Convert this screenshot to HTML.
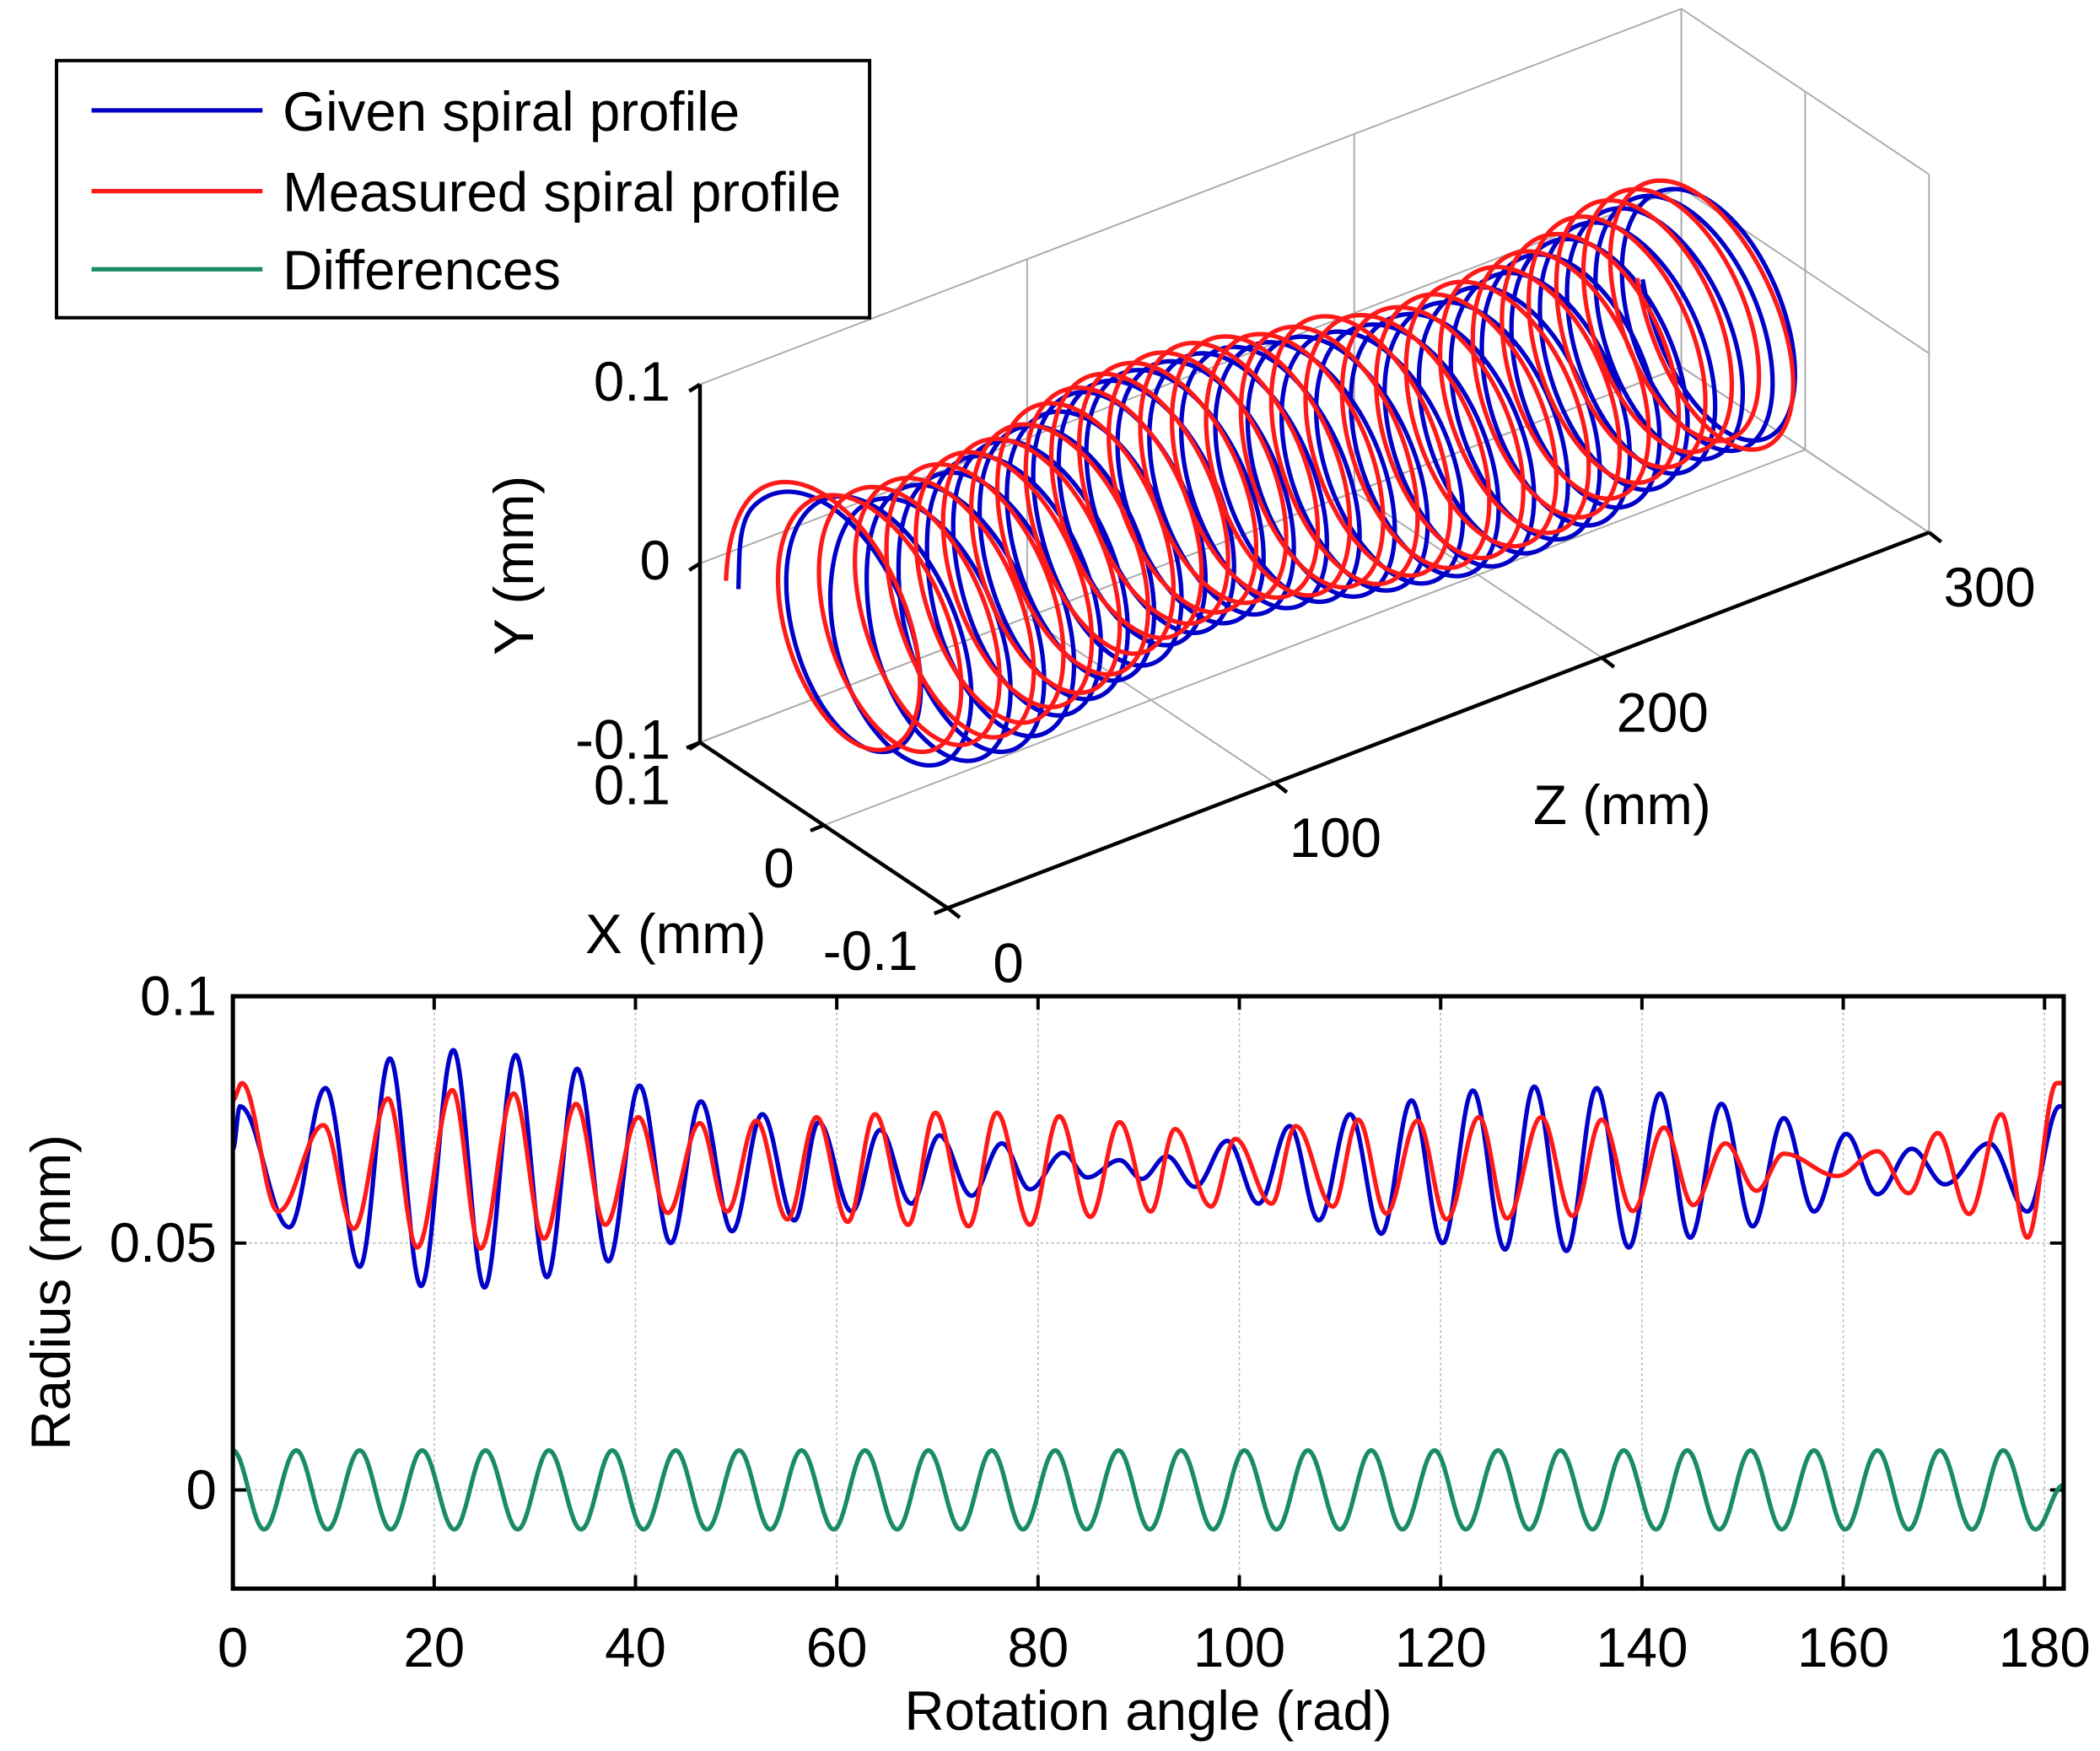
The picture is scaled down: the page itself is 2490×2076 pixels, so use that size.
<!DOCTYPE html>
<html><head><meta charset="utf-8"><style>
html,body{margin:0;padding:0;background:#fff;}
svg{display:block;}
text{font-family:"Liberation Sans",sans-serif;fill:#000;}
</style></head><body>
<svg id="fig" width="2490" height="2076" viewBox="0 0 1560 1300.6" preserveAspectRatio="none" xmlns="http://www.w3.org/2000/svg">
<g id="g3d"></g>
<g id="g2d"></g>
<g id="legend">
 <rect x="42" y="45" width="604" height="191" fill="#fff" stroke="#000" stroke-width="2.5"/>
 <line x1="68" y1="82" x2="195" y2="82" stroke="#0000c8" stroke-width="3.3"/>
 <text x="210" y="97" font-size="41">Given spiral profile</text>
 <line x1="68" y1="142" x2="195" y2="142" stroke="#ff1a1a" stroke-width="3.3"/>
 <text x="210" y="157" font-size="41">Measured spiral profile</text>
 <line x1="68" y1="200" x2="195" y2="200" stroke="#1a8c64" stroke-width="3.3"/>
 <text x="210" y="215" font-size="41">Differences</text>
</g>
</svg>
<script>
// ---- data (extrema; curves interpolated between them) ----
const xTicks = [0,20,40,60,80,100,120,140,160,180];
const yTicks = [0,0.05,0.1];
const yTickLabels = ["0","0.05","0.1"];
const blueAngles = [0,0.7,5.6,9.2,12.6,15.6,18.7,21.9,25.0,28.1,31.2,34.2,37.3,40.4,43.5,46.5,49.6,52.6,55.8,58.2,61.5,64.3,67.4,70.2,73.4,76.4,79.2,82.5,84.9,88.1,90.3,92.8,95.6,98.8,101.9,105.0,107.9,111.0,114.1,117.1,120.2,123.2,126.4,129.3,132.5,135.5,138.7,141.8,144.8,147.9,151.0,154.1,157.1,160.3,163.4,166.8,170.1,174.5,178.3,181.5];
const blueValues = [0.069,0.0777,0.0532,0.0814,0.0452,0.0874,0.0413,0.0891,0.0410,0.0881,0.0431,0.0853,0.0463,0.0819,0.05,0.0787,0.0524,0.0761,0.0546,0.0745,0.0564,0.0729,0.058,0.0718,0.0596,0.0702,0.0609,0.0683,0.0633,0.0668,0.063,0.0676,0.0614,0.0707,0.058,0.0737,0.0546,0.0761,0.0519,0.0789,0.05,0.0809,0.0487,0.0817,0.0484,0.0814,0.0491,0.0803,0.0511,0.0782,0.0534,0.0753,0.0564,0.0721,0.0599,0.0691,0.0619,0.0702,0.0564,0.0777];
const redAngles = [0,0.9,4.5,9.0,12.0,15.4,18.3,21.8,24.6,27.9,30.9,34.1,37.0,40.3,43.2,46.4,49.1,52.0,55.1,58.0,61.1,63.8,67.1,69.8,73.1,75.9,79.2,82.1,85.2,88.1,91.2,93.6,97.2,99.6,103.2,105.6,109.3,111.8,114.6,117.7,120.6,123.8,126.6,130.0,133.1,136.0,139.1,142.2,145.1,148.3,151.4,154.1,159.4,163.4,166.5,169.4,172.5,175.7,178.3,181.2];
const redValues = [0.079,0.0824,0.0564,0.0739,0.0529,0.0793,0.0491,0.081,0.0489,0.0803,0.0509,0.0782,0.0537,0.0755,0.0561,0.0743,0.0564,0.0748,0.0548,0.0755,0.0543,0.0761,0.0537,0.0764,0.0534,0.0764,0.0537,0.0757,0.0553,0.0745,0.0564,0.0731,0.0574,0.0711,0.058,0.0737,0.0574,0.075,0.056,0.0748,0.0548,0.0755,0.055,0.0755,0.0555,0.075,0.0565,0.0734,0.0577,0.0702,0.0606,0.0681,0.0636,0.0686,0.0601,0.0723,0.0559,0.0761,0.0511,0.0824];
const diffAngles = [0,3.1,6.3,9.4,12.6,15.7,18.8,22.0,25.1,28.3,31.4,34.6,37.7,40.8,44.0,47.1,50.3,53.4,56.5,59.7,62.8,66.0,69.1,72.3,75.4,78.5,81.7,84.8,88.0,91.1,94.2,97.4,100.5,103.7,106.8,110.0,113.1,116.2,119.4,122.5,125.7,128.8,131.9,135.1,138.2,141.4,144.5,147.7,150.8,153.9,157.1,160.2,163.4,166.5,169.6,172.8,175.9,179.1,181.9];
const diffValues = [0.008,-0.008,0.008,-0.008,0.008,-0.008,0.008,-0.008,0.008,-0.008,0.008,-0.008,0.008,-0.008,0.008,-0.008,0.008,-0.008,0.008,-0.008,0.008,-0.008,0.008,-0.008,0.008,-0.008,0.008,-0.008,0.008,-0.008,0.008,-0.008,0.008,-0.008,0.008,-0.008,0.008,-0.008,0.008,-0.008,0.008,-0.008,0.008,-0.008,0.008,-0.008,0.008,-0.008,0.008,-0.008,0.008,-0.008,0.008,-0.008,0.008,-0.008,0.008,-0.008,0.001];
const zTicks = [0,100,200,300];
const xTicks3d = [0.1,0,-0.1];
const yTicks3d = [0.1,0,-0.1];

const NS="http://www.w3.org/2000/svg";
function mk(parent,tag,attrs){const e=document.createElementNS(NS,tag);for(const k in attrs)e.setAttribute(k,attrs[k]);parent.appendChild(e);return e;}
function interp(A,V,t){
  if(t<=A[0])return V[0];
  for(let i=0;i<A.length-1;i++){
    if(t<=A[i+1]){const s=(t-A[i])/(A[i+1]-A[i]);return V[i]+(V[i+1]-V[i])*(1-Math.cos(Math.PI*s))/2;}
  }
  return V[V.length-1];
}
const XMAX=181.9;
const FS=41;

// ---- 2D plot ----
const g2=document.getElementById('g2d');
const L=173,R=1533,T=740,B=1180,YMIN=-0.02,YMAX=0.1;
const sx=v=>L+(v/XMAX)*(R-L);
const sy=v=>B-(v-YMIN)/(YMAX-YMIN)*(B-T);
xTicks.forEach(v=>{
  const x=sx(v);
  if(v>0){const gl=mk(g2,'line',{x1:x,y1:T,x2:x,y2:B,stroke:'#bbb','stroke-width':1,'stroke-dasharray':'2,2'});
  
  }
  mk(g2,'line',{x1:x,y1:B,x2:x,y2:B-10,stroke:'#000','stroke-width':2.5});
  mk(g2,'line',{x1:x,y1:T,x2:x,y2:T+10,stroke:'#000','stroke-width':2.5});
  const t=mk(g2,'text',{x:x,y:B+58,'font-size':FS,'text-anchor':'middle'});t.textContent=v;
  
  
});
yTicks.forEach((v,i)=>{
  const y=sy(v);
  if(v<0.1){const gl=mk(g2,'line',{x1:L,y1:y,x2:R,y2:y,stroke:'#bbb','stroke-width':1,'stroke-dasharray':'2,2'});
  
  }
  mk(g2,'line',{x1:L,y1:y,x2:L+10,y2:y,stroke:'#000','stroke-width':2.5});
  mk(g2,'line',{x1:R,y1:y,x2:R-10,y2:y,stroke:'#000','stroke-width':2.5});
  const t=mk(g2,'text',{x:L-12,y:y+14,'font-size':FS,'text-anchor':'end'});t.textContent=yTickLabels[i];
  
  
});
function series2d(A,V,color,name){
  let d='';
  for(let t=0;t<=XMAX+1e-9;t+=0.1){d+=(t===0?'M':'L')+sx(t).toFixed(2)+','+sy(interp(A,V,t)).toFixed(2);}
  const p=mk(g2,'path',{d:d,fill:'none',stroke:color,'stroke-width':3.3,'stroke-linejoin':'round'});
  
  
}
series2d(blueAngles,blueValues,'#0000c8','given-radius-line');
series2d(redAngles,redValues,'#ff1a1a','measured-radius-line');
series2d(diffAngles,diffValues,'#1a8c64','differences-line');
const frame=mk(g2,'rect',{x:L,y:T,width:R-L,height:B-T,fill:'none',stroke:'#000','stroke-width':3.2});


let xt=mk(g2,'text',{x:853,y:1285,'font-size':FS,'text-anchor':'middle'});xt.textContent='Rotation angle (rad)';


let yt=mk(g2,'text',{x:0,y:0,'font-size':FS,'text-anchor':'middle',transform:'translate(52,960) rotate(-90)'});yt.textContent='Radius (mm)';



// ---- 3D plot ----
const g3=document.getElementById('g3d');
const K=1.53;
const P=(X,Y,Z)=>[612-920*X+2.43*Z, 480-615*X-1330*Y-0.93*Z];
function ln(a,b,attrs,name){const l=mk(g3,'line',Object.assign({x1:a[0],y1:a[1],x2:b[0],y2:b[1]},attrs));
  
  return l;}
const grid={stroke:'#aaa','stroke-width':1.2};
zTicks.forEach(z=>ln(P(0.1,-0.1,z),P(0.1,0.1,z),grid,'grid-back-z'));
yTicks3d.forEach(y=>ln(P(0.1,y,0),P(0.1,y,300),grid,'grid-back-y'));
zTicks.forEach(z=>ln(P(-0.1,-0.1,z),P(0.1,-0.1,z),grid,'grid-floor-z'));
xTicks3d.forEach(x=>ln(P(x,-0.1,0),P(x,-0.1,300),grid,'grid-floor-x'));
xTicks3d.forEach(x=>ln(P(x,-0.1,300),P(x,0.1,300),grid,'grid-end-x'));
yTicks3d.forEach(y=>ln(P(-0.1,y,300),P(0.1,y,300),grid,'grid-end-y'));
function helix(A,V,color,name){
  let d='';
  for(let t=0;t<=XMAX+1e-9;t+=0.05){const r=interp(A,V,t);const p=P(r*Math.cos(t),r*Math.sin(t),K*t);d+=(t===0?'M':'L')+p[0].toFixed(2)+','+p[1].toFixed(2);}
  const p=mk(g3,'path',{d:d,fill:'none',stroke:color,'stroke-width':3.3,'stroke-linejoin':'round'});
  
  
}
helix(blueAngles,blueValues,'#0000c8','given-spiral-3d');
helix(redAngles,redValues,'#ff1a1a','measured-spiral-3d');
const ax={stroke:'#000','stroke-width':2.8};
ln(P(0.1,-0.1,0),P(0.1,0.1,0),ax,'y-axis-3d');
ln(P(0.1,-0.1,0),P(-0.1,-0.1,0),ax,'x-axis-3d');
ln(P(-0.1,-0.1,0),P(-0.1,-0.1,300),ax,'z-axis-3d');
function lab(x,y,s,anchor,name,extra){const t=mk(g3,'text',Object.assign({x:x,y:y,'font-size':FS,'text-anchor':anchor},extra||{}));t.textContent=s;
  
  }
yTicks3d.forEach(v=>{const p=P(0.1,v,0);ln(p,[p[0]-8,p[1]+5],ax,'y-tick-3d');lab(p[0]-22,p[1]+12,String(v),'end','y-tick-label-3d');});
xTicks3d.forEach(v=>{const p=P(v,-0.1,0);ln(p,[p[0]-10,p[1]+4],ax,'x-tick-3d');lab(p[0]-22,p[1]+46,String(v),'end','x-tick-label-3d');});
zTicks.forEach(v=>{const p=P(-0.1,-0.1,v);ln(p,[p[0]+9,p[1]+7],ax,'z-tick-3d');lab(p[0]+45,p[1]+55,String(v),'middle','z-tick-label-3d');});
lab(0,0,'Y (mm)','middle','y-axis-title-3d',{transform:'translate(396,420) rotate(-90)'});
lab(502,708,'X (mm)','middle','x-axis-title-3d');
lab(1205,612,'Z (mm)','middle','z-axis-title-3d');
</script>
</body></html>
